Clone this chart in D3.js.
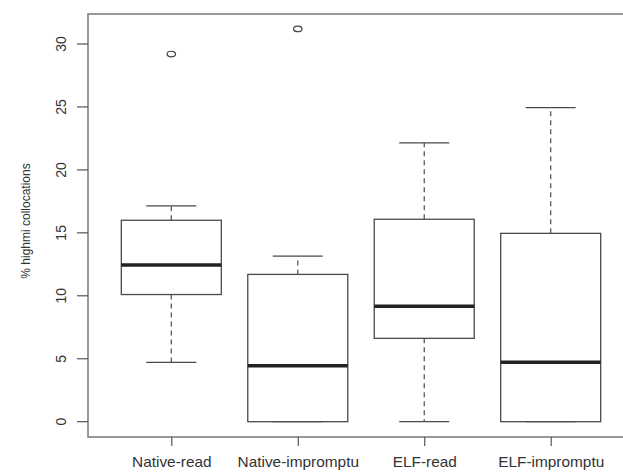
<!DOCTYPE html>
<html>
<head>
<meta charset="utf-8">
<script src="https://cdn.jsdelivr.net/npm/d3@7"></script>
<style>
  body { margin: 0; background: #fff; }
  svg { display: block; }
  text { font-family: "Liberation Sans", Arial, sans-serif; fill: #333; }
</style>
</head>
<body>
<script>
var width = 623
var height = 472

// data
var categories = ['Native-read', 'Native-impromptu', 'ELF-read', 'ELF-impromptu']
var lowWhisker = [4.72, 0, 0, 0]
var q1 = [10.1, 0, 6.62, 0]
var medians = [12.45, 4.45, 9.17, 4.72]
var q3 = [16.0, 11.7, 16.08, 14.96]
var highWhisker = [17.15, 13.15, 22.15, 24.95]
var outliers = [[29.2], [31.2], [], []]
var yTicks = [0, 5, 10, 15, 20, 25, 30]
var yTitle = '% highmi collocations'

var plot = { left: 88, top: 14, bottom: 437, right: 634 }

var boxes = categories.map(function(c, i) {
  return { name: c, lo: lowWhisker[i], q1: q1[i], med: medians[i], q3: q3[i], hi: highWhisker[i], out: outliers[i] }
})

var svg = d3.select('body').append('svg')
  .attr('width', width)
  .attr('height', height)

var x = d3.scalePoint()
  .domain(categories)
  .range([171.3, 550.7])

var y = d3.scaleLinear()
  .domain([0, 30])
  .range([421.7, 44])

var boxW = 100
var capW = 50
var lineCol = '#4a4a4a'

// frame (right side is cut off by the picture)
svg.append('path')
  .attr('d', 'M' + plot.right + ',' + plot.top + 'H' + plot.left + 'V' + plot.bottom + 'H' + plot.right)
  .style('fill', 'none')
  .style('stroke', '#777')
  .style('stroke-width', 1.5)

// y axis
var yAxis = svg.append('g')
  .attr('transform', 'translate(' + plot.left + ',0)')
  .call(d3.axisLeft(y).tickValues(yTicks).tickSize(11).tickFormat(d3.format('d')))
yAxis.select('.domain').remove()
yAxis.selectAll('line').style('stroke', '#555').style('stroke-width', 1.2)
yAxis.selectAll('text')
  .attr('x', null).attr('dy', null)
  .attr('transform', function(d) { return 'translate(-22,' + y(d) + ') rotate(-90)' })
  .attr('y', 0)
  .style('text-anchor', 'middle')
  .style('font-size', '14px')
  .style('fill', '#333')
yAxis.selectAll('.tick').attr('transform', null)
yAxis.selectAll('.tick line').attr('y1', function(d) { return y(d) }).attr('y2', function(d) { return y(d) })

svg.append('text')
  .attr('transform', 'translate(30,221) rotate(-90)')
  .style('text-anchor', 'middle')
  .style('font-size', '12px')
  .text(yTitle)

// x axis
var xAxis = svg.append('g')
  .attr('transform', 'translate(0,' + plot.bottom + ')')
  .call(d3.axisBottom(x).tickSize(9).tickPadding(0))
xAxis.select('.domain').remove()
xAxis.selectAll('line').style('stroke', '#555').style('stroke-width', 1.2)
xAxis.selectAll('text')
  .attr('y', 30).attr('dy', null)
  .attr('transform', 'scale(1.1,1)')
  .style('font-size', '14px')
  .style('fill', '#333')
xAxis.selectAll('.tick').each(function(d) {
  d3.select(this).select('text').attr('x', 0)
})

// boxes
var g = svg.selectAll('g.box')
  .data(boxes)
  .enter()
  .append('g')
  .attr('class', 'box')
  .attr('transform', function(d) { return 'translate(' + x(d.name) + ',0)' })

g.append('line')
  .attr('y1', function(d) { return y(d.q3) })
  .attr('y2', function(d) { return y(d.hi) })
  .style('stroke', lineCol).style('stroke-width', 1.2).style('stroke-dasharray', '5,4')
g.append('line')
  .attr('y1', function(d) { return y(d.q1) })
  .attr('y2', function(d) { return y(d.lo) })
  .style('stroke', lineCol).style('stroke-width', 1.2).style('stroke-dasharray', '5,4')

g.append('line')
  .attr('x1', -capW / 2).attr('x2', capW / 2)
  .attr('y1', function(d) { return y(d.hi) })
  .attr('y2', function(d) { return y(d.hi) })
  .style('stroke', lineCol).style('stroke-width', 1.3)
g.append('line')
  .attr('x1', -capW / 2).attr('x2', capW / 2)
  .attr('y1', function(d) { return y(d.lo) })
  .attr('y2', function(d) { return y(d.lo) })
  .style('stroke', lineCol).style('stroke-width', 1.3)

g.append('rect')
  .attr('x', -boxW / 2)
  .attr('width', boxW)
  .attr('y', function(d) { return y(d.q3) })
  .attr('height', function(d) { return y(d.q1) - y(d.q3) })
  .style('fill', '#fff')
  .style('stroke', lineCol)
  .style('stroke-width', 1.3)

g.append('line')
  .attr('x1', -boxW / 2).attr('x2', boxW / 2)
  .attr('y1', function(d) { return y(d.med) })
  .attr('y2', function(d) { return y(d.med) })
  .style('stroke', '#222').style('stroke-width', 3.5)

g.selectAll('ellipse')
  .data(function(d) { return d.out })
  .enter()
  .append('ellipse')
  .attr('cx', 0)
  .attr('cy', function(v) { return y(v) })
  .attr('rx', 4.2)
  .attr('ry', 2.8)
  .style('fill', 'none')
  .style('stroke', '#444')
  .style('stroke-width', 1.2)
</script>
</body>
</html>
